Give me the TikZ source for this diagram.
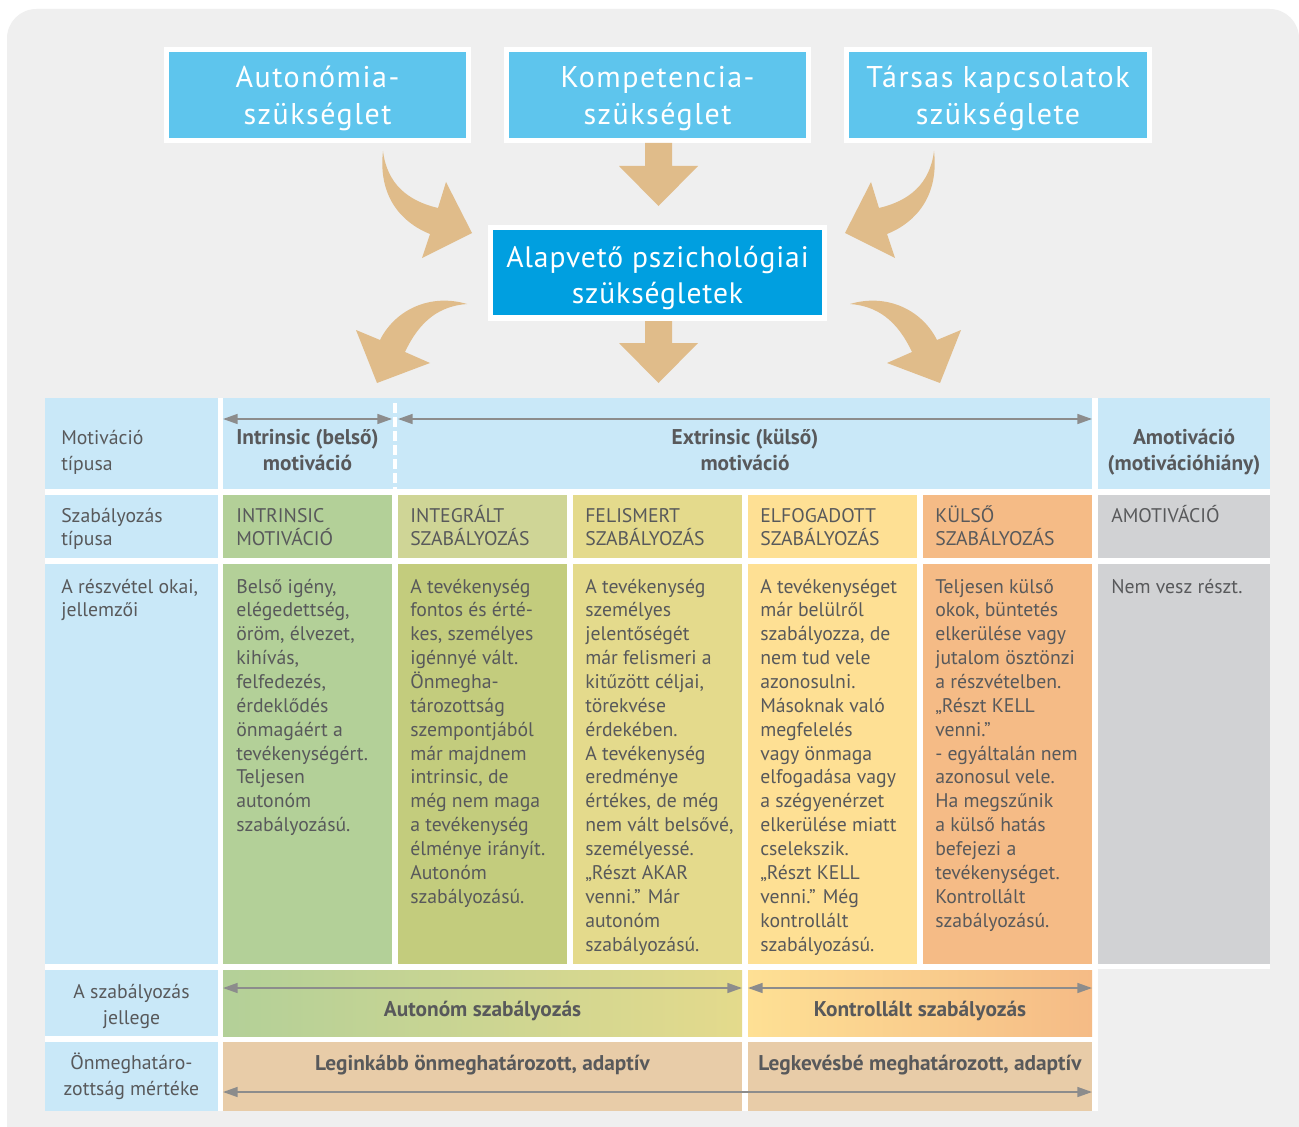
\documentclass[tikz,border=0pt]{standalone}
\usepackage{fontspec}
\setmainfont{PT Sans}
\newfontfamily\bigfam[LetterSpace=5]{PT Sans}
\newfontfamily\midfam[LetterSpace=3]{PT Sans}
\usetikzlibrary{arrows.meta}
\definecolor{bgc}{RGB}{239,239,239}
\definecolor{topblue}{RGB}{94,197,237}
\definecolor{midblue}{RGB}{0,159,224}
\definecolor{tanc}{RGB}{224,188,138}
\definecolor{lblue}{RGB}{201,232,248}
\definecolor{cgreen}{RGB}{179,208,152}
\definecolor{colive}{RGB}{207,213,150}
\definecolor{colivedk}{RGB}{195,204,125}
\definecolor{cyel}{RGB}{228,218,140}
\definecolor{clyel}{RGB}{254,224,148}
\definecolor{corange}{RGB}{245,187,134}
\definecolor{cgray}{RGB}{209,210,212}
\definecolor{ctan}{RGB}{232,204,168}
\definecolor{txt}{RGB}{88,89,91}
\definecolor{agray}{RGB}{140,140,140}
\tikzset{
  bigtxt/.style={anchor=base, inner sep=0pt, text=white, font=\bigfam\fontsize{22.5}{27.75}\selectfont},
  midtxt/.style={anchor=base, inner sep=0pt, text=white, font=\midfam\fontsize{22.2}{27}\selectfont},
  hdr/.style={anchor=base west, inner sep=0pt, text=txt, font=\fontsize{14.8}{19.5}\selectfont},
  hdrc/.style={anchor=base, inner sep=0pt, text=txt, font=\fontsize{14.8}{19.5}\selectfont},
  hdrb/.style={anchor=base, inner sep=0pt, text=txt, font=\bfseries\fontsize{16}{19.5}\selectfont},
  body/.style={anchor=base west, inner sep=0pt, text=txt, font=\fontsize{14.8}{17.9}\selectfont},
  garrow/.style={draw=agray, line width=1.1pt, {Triangle[length=11pt,width=7.5pt]}-{Triangle[length=11pt,width=7.5pt]}},
}
\newcommand\lt[1]{\parbox[t]{160pt}{\raggedright #1}}
\newcommand\ct[1]{\parbox[t]{330pt}{\centering #1}}
\begin{document}
\begin{tikzpicture}[x=0.75pt,y=-0.75pt]
\useasboundingbox (0,0) rectangle (1299,1127);
\clip (0,0) rectangle (1299,1127);
\fill[white] (0,0) rectangle (1299,1127);
\fill[bgc, rounded corners=22pt] (7,9) rectangle (1299,1200);

% top boxes
\fill[white] (164,47) rectangle (471,143);
\fill[topblue] (169,52) rectangle (466,138);
\fill[white] (504,47) rectangle (811,143);
\fill[topblue] (509,52) rectangle (806,138);
\fill[white] (844,47) rectangle (1152,143);
\fill[topblue] (849,52) rectangle (1147,138);
\node[bigtxt] (auto) at (317.5,88) {\ct{Autonómia-\\szükséglet}};
\node[bigtxt] (komp) at (657.5,88) {\ct{Kompetencia-\\szükséglet}};
\node[bigtxt] (tars) at (998,88) {\ct{Társas kapcsolatok\\szükséglete}};

% centre box
\fill[white] (488,225) rectangle (827,321);
\fill[midblue] (493,230) rectangle (822,315);
\node[midtxt] (alap) at (657.5,267) {\ct{Alapvető pszichológiai\\szükségletek}};

% tan arrows
\fill[tanc] (645,143) -- (672,143) -- (672,166) -- (698,166) -- (658.5,206) -- (619,166) -- (645,166) -- cycle;
\fill[tanc] (645,321) -- (672,321) -- (672,343) -- (698,343) -- (658.5,383) -- (619,343) -- (645,343) -- cycle;
\fill[tanc] (383,151) .. controls (378,195) and (400,222) .. (430,234) -- (422,258) -- (472,233) -- (446,182) -- (438,208) .. controls (408,201) and (387,184) .. (383,151) -- cycle;
\begin{scope}[shift={(1317,0)}, xscale=-1]
\fill[tanc] (383,151) .. controls (378,195) and (400,222) .. (430,234) -- (422,258) -- (472,233) -- (446,182) -- (438,208) .. controls (408,201) and (387,184) .. (383,151) -- cycle;
\end{scope}
\fill[tanc] (467,304) .. controls (430,293) and (395,310) .. (380,340) -- (356,330) -- (377,383) -- (430,363) -- (405,352) .. controls (420,320) and (440,306) .. (467,304) -- cycle;
\begin{scope}[shift={(1317,0)}, xscale=-1]
\fill[tanc] (467,304) .. controls (430,293) and (395,310) .. (380,340) -- (356,330) -- (377,383) -- (430,363) -- (405,352) .. controls (420,320) and (440,306) .. (467,304) -- cycle;
\end{scope}

% table backdrop
\fill[white] (45,398) rectangle (1270,969);
\fill[white] (45,969) rectangle (1098,1111);
% row 1
\fill[lblue] (45,398) rectangle (218,489);
\fill[lblue] (223,398) rectangle (1092,489);
\fill[lblue] (1098,398) rectangle (1270,489);
\draw[white, line width=3.5pt, dash pattern=on 7.5pt off 3pt] (395,403) -- (395,489);
% row 2
\fill[lblue] (45,495) rectangle (218,558);
\fill[cgreen] (223,495) rectangle (392,558);
\fill[colive] (398,495) rectangle (567,558);
\fill[cyel] (573,495) rectangle (742,558);
\fill[clyel] (748,495) rectangle (917,558);
\fill[corange] (923,495) rectangle (1092,558);
\fill[cgray] (1098,495) rectangle (1270,558);
% row 3
\fill[lblue] (45,564) rectangle (218,964);
\fill[cgreen] (223,564) rectangle (392,964);
\fill[colivedk] (398,564) rectangle (567,964);
\fill[cyel] (573,564) rectangle (742,964);
\fill[clyel] (748,564) rectangle (917,964);
\fill[corange] (923,564) rectangle (1092,964);
\fill[cgray] (1098,564) rectangle (1270,964);
% row 4
\fill[lblue] (45,970) rectangle (218,1036);
\shade[left color=cgreen, middle color=colivedk!80!cyel, right color=cyel] (223,970) rectangle (742,1036);
\shade[left color=clyel, middle color=clyel!45!corange, right color=corange] (748,970) rectangle (1092,1036);
% row 5
\fill[lblue] (45,1042) rectangle (218,1111);
\fill[ctan] (223,1042) rectangle (742,1111);
\fill[ctan] (748,1042) rectangle (1092,1111);

% grey arrows
\coordinate (a1l) at (223,419); \coordinate (a1r) at (392,419);
\coordinate (a2l) at (398,419); \coordinate (a2r) at (1092,419);
\coordinate (a3l) at (223,988); \coordinate (a3r) at (742,988);
\coordinate (a4l) at (748,988); \coordinate (a4r) at (1092,988);
\coordinate (a5l) at (223,1092); \coordinate (a5r) at (1092,1092);
\draw[garrow] (a1l) -- (a1r);
\draw[garrow] (a2l) -- (a2r);
\draw[garrow] (a3l) -- (a3r);
\draw[garrow] (a4l) -- (a4r);
\draw[garrow] (a5l) -- (a5r);

% row 1 texts
\node[hdr] (mt) at (61,444) {\lt{Motiváció\\típusa}};
\node[hdrb] (intr) at (307.5,444) {\ct{Intrinsic (belső)\\motiváció}};
\node[hdrb] (extr) at (745,444) {\ct{Extrinsic (külső)\\motiváció}};
\node[hdrb] (amot) at (1184,444) {\ct{Amotiváció\\(motivációhiány)}};
% row 2 texts
\node[body] (szt) at (61,522) {\lt{Szabályozás\\típusa}};
\node[body] (r2c1) at (236,522) {\lt{INTRINSIC\\MOTIVÁCIÓ}};
\node[body] (r2c2) at (410,522) {\lt{INTEGRÁLT\\SZABÁLYOZÁS}};
\node[body] (r2c3) at (585,522) {\lt{FELISMERT\\SZABÁLYOZÁS}};
\node[body] (r2c4) at (760,522) {\lt{ELFOGADOTT\\SZABÁLYOZÁS}};
\node[body] (r2c5) at (935,522) {\lt{KÜLSŐ\\SZABÁLYOZÁS}};
\node[body] (r2c6) at (1111,522) {\lt{AMOTIVÁCIÓ}};
% row 3 texts
\node[body] (rok) at (61,593) {\lt{A részvétel okai,\\jellemzői}};
\node[body] (r3c1) at (236,593) {\lt{Belső igény,\\elégedettség,\\öröm, élvezet,\\kihívás,\\felfedezés,\\érdeklődés\\önmagáért a\\tevékenységért.\\Teljesen\\autonóm\\szabályozású.}};
\node[body] (r3c2) at (410,593) {\lt{A tevékenység\\fontos és érté-\\kes, személyes\\igénnyé vált.\\Önmegha-\\tározottság\\szempontjából\\már majdnem\\intrinsic, de\\még nem maga\\a tevékenység\\élménye irányít.\\Autonóm\\szabályozású.}};
\node[body] (r3c3) at (585,593) {\lt{A tevékenység\\személyes\\jelentőségét\\már felismeri a\\kitűzött céljai,\\törekvése\\érdekében.\\A tevékenység\\eredménye\\értékes, de még\\nem vált belsővé,\\személyessé.\\„Részt AKAR\\venni.” Már\\autonóm\\szabályozású.}};
\node[body] (r3c4) at (760,593) {\lt{A tevékenységet\\már belülről\\szabályozza, de\\nem tud vele\\azonosulni.\\Másoknak való\\megfelelés\\vagy önmaga\\elfogadása vagy\\a szégyenérzet\\elkerülése miatt\\cselekszik.\\„Részt KELL\\venni.” Még\\kontrollált\\szabályozású.}};
\node[body] (r3c5) at (935,593) {\lt{Teljesen külső\\okok, büntetés\\elkerülése vagy\\jutalom ösztönzi\\a részvételben.\\„Részt KELL\\venni.”\\- egyáltalán nem\\azonosul vele.\\Ha megszűnik\\a külső hatás\\befejezi a\\tevékenységet.\\Kontrollált\\szabályozású.}};
\node[body] (r3c6) at (1111,593) {\lt{Nem vesz részt.}};
% row 4 texts
\node[hdrc] (jell) at (131.5,998) {\ct{A szabályozás\\jellege}};
\node[hdrb] (autsz) at (482.5,1016) {Autonóm szabályozás};
\node[hdrb] (kontsz) at (920,1016) {Kontrollált szabályozás};
% row 5 texts
\node[hdrc] (onm) at (131.5,1069) {\ct{Önmeghatáro-\\zottság mértéke}};
\node[hdrb] (legink) at (482.5,1070) {Leginkább önmeghatározott, adaptív};
\node[hdrb] (legkev) at (920,1070) {Legkevésbé meghatározott, adaptív};
\end{tikzpicture}
\end{document}
